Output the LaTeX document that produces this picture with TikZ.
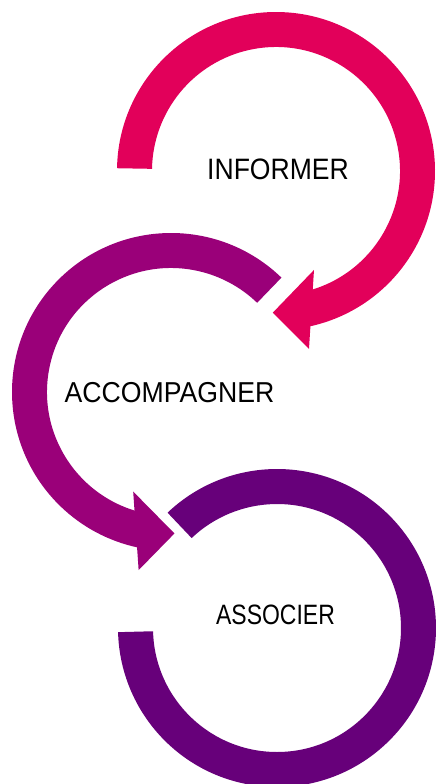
\documentclass[tikz,border=0pt]{standalone}
\usepackage{fontspec}
\setmainfont{Liberation Sans}
\usepackage{graphicx}
\definecolor{cpink}{RGB}{226,0,90}
\definecolor{cmag}{RGB}{154,0,121}
\definecolor{cpur}{RGB}{103,0,122}
\begin{document}
\begin{tikzpicture}[x=1pt,y=1pt,
  lbl/.style={inner sep=0pt, text=black}]
\useasboundingbox (0,-784) rectangle (438,0);
% top arc (pink)
\begin{scope}[shift={(276,-171)}]
  \fill[cpink] (179:159) arc[start angle=179,end angle=-78,radius=159]
     -- (-78:124) arc[start angle=-78,end angle=179,radius=124] -- cycle;
  \fill[cpink] (-91.3:141.7) -- (-69:106) -- (-79.5:181) -- cycle;
\end{scope}
% middle arc (magenta)
\begin{scope}[shift={(171,-392)}]
  \fill[cmag] (46:159) arc[start angle=46,end angle=258,radius=159]
     -- (258:124) arc[start angle=258,end angle=46,radius=124] -- cycle;
  \fill[cmag] (271.4:141.5) -- (249.2:106.5) -- (259.7:181) -- cycle;
\end{scope}
% bottom arc (purple)
\begin{scope}[shift={(277,-628)}]
  \fill[cpur] (133.5:159) arc[start angle=133.5,end angle=-178.5,radius=159]
     -- (-178.5:124) arc[start angle=-178.5,end angle=133.5,radius=124] -- cycle;
\end{scope}
\node[lbl] (inf) at (278,-169) {\fontsize{29.5}{30}\selectfont\scalebox{0.9}[1]{INFORMER}};
\node[lbl] (acc) at (169.5,-393) {\fontsize{28.8}{30}\selectfont\scalebox{0.925}[1]{ACCOMPAGNER}};
\node[lbl] (ass) at (275.5,-615) {\fontsize{28}{30}\selectfont\scalebox{0.82}[1]{ASSOCIER}};
\end{tikzpicture}
\end{document}
